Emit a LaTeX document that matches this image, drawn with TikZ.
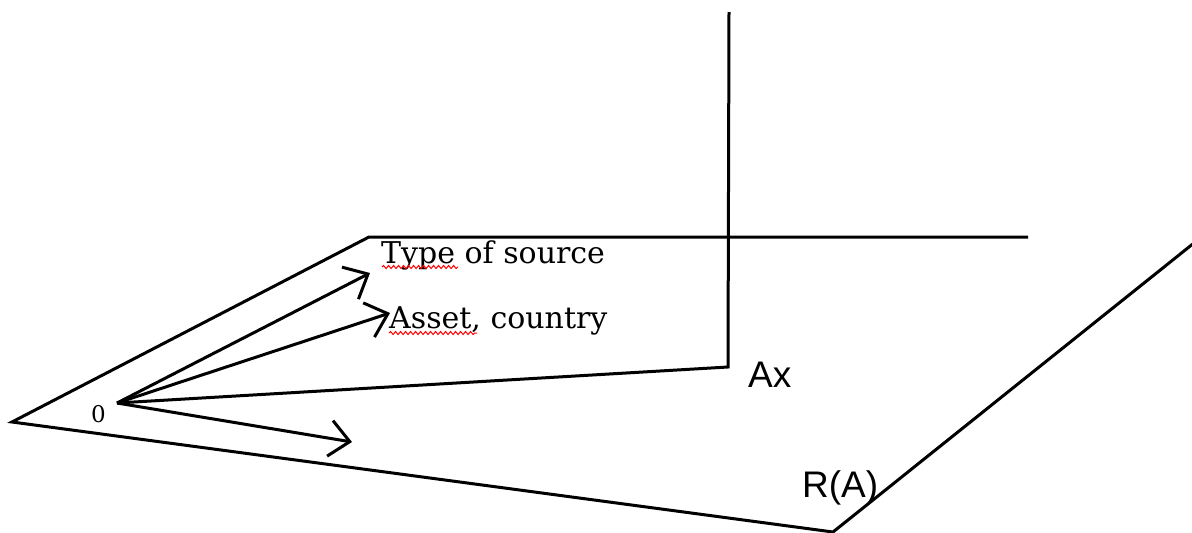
\documentclass[tikz,border=0pt]{standalone}
\usepackage{fontspec}
\usetikzlibrary{arrows.meta,decorations.pathmorphing}
\newfontfamily\serifdv{DejaVu Serif}
\newfontfamily\sanslib{Liberation Sans}
\begin{document}
\begin{tikzpicture}[x=1pt,y=-1pt,
  edge/.style={line width=3pt,line join=miter},
  vec/.style={edge,-{Straight Barb[length=20pt,width=36pt,line width=3pt]}},
  lbl/.style={inner sep=0pt,anchor=base west,font=\serifdv\fontsize{30}{30}\selectfont},
  hand/.style={inner sep=0pt,anchor=base west,font=\sanslib\fontsize{37}{37}\selectfont},
  squig/.style={red,line width=1pt,decorate,decoration={snake,amplitude=1.5pt,segment length=5pt}}]
\useasboundingbox (0,0) rectangle (1192,533);
% plane corners
\coordinate (L) at (12,422);
\coordinate (TL) at (369,237);
\coordinate (TR) at (1028,237);
\coordinate (RR) at (1194,243);
\coordinate (B) at (833,532);
% axis
\coordinate (O) at (117,403);
\coordinate (V) at (728,367);
\coordinate (Vt) at (729,12);
% arrow tips
\coordinate (A1) at (370,273);
\coordinate (A2) at (390,313);
\coordinate (A3) at (352,442);
% plane
\draw[edge] (TR) -- (TL) -- (L) -- (B) -- (RR);
% image vector
\draw[edge] (O) -- (V) -- (Vt);
% vectors
\draw[vec] (O) -- (A1);
\draw[vec] (O) -- (A2);
\draw[vec] (O) -- (A3);
% labels
\node[lbl] (t1) at (381,263) {Type of source};
\node[lbl] (t2) at (389,328) {Asset, country};
\node[inner sep=0pt,anchor=base west,font=\serifdv\fontsize{23}{23}\selectfont] (zero) at (91,422) {0};
\node[hand] (ax) at (748,387) {Ax};
\node[hand] (ra) at (802,497) {R(A)};
% spell-check squiggles
\draw[squig] (382,267) -- (458,267);
\draw[squig] (389,333) -- (477,333);
\end{tikzpicture}
\end{document}
